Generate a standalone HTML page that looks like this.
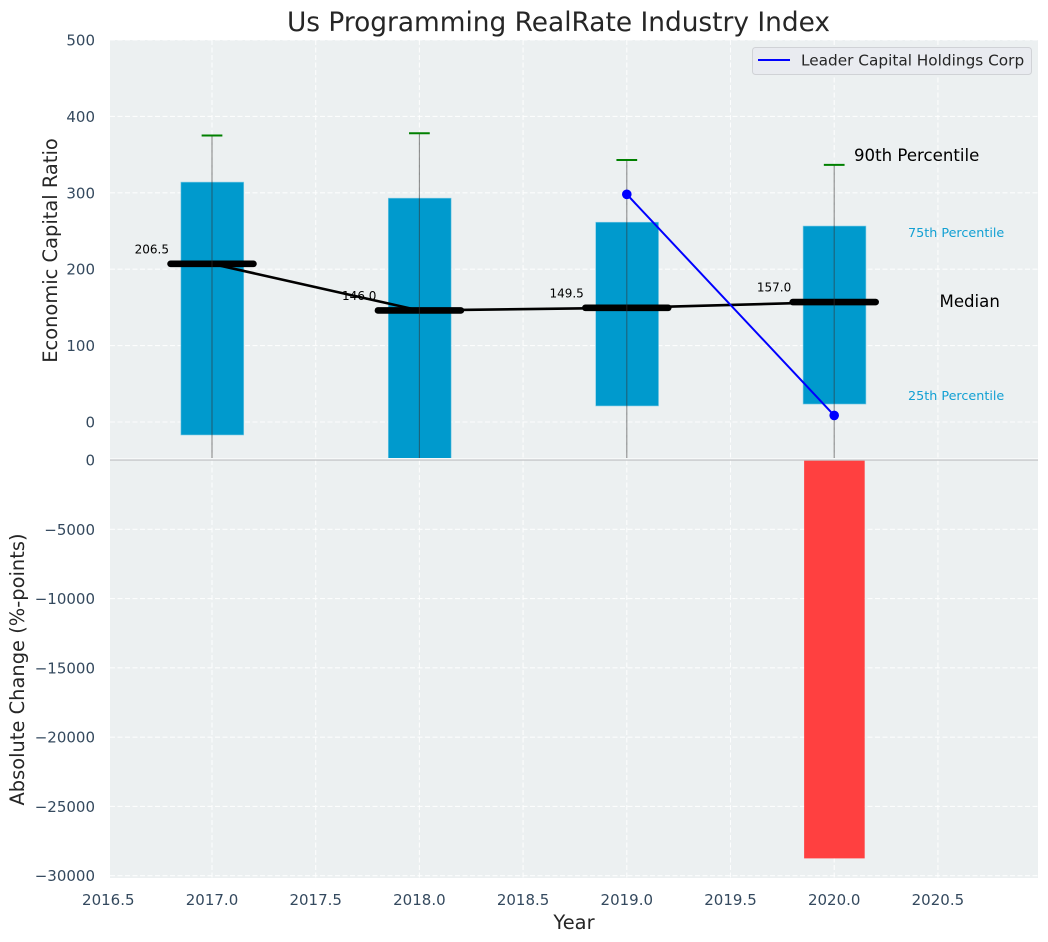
<!DOCTYPE html>
<html lang="en">
<head>
<meta charset="utf-8">
<title>Us Programming RealRate Industry Index</title>
<style>
html,body{margin:0;padding:0;background:#fff;width:1048px;height:942px;overflow:hidden}
svg{display:block;font-family:"DejaVu Sans","Liberation Sans",sans-serif}
</style>
</head>
<body>
<svg id="chart" width="1048" height="942" viewBox="0 0 1048 942" xmlns="http://www.w3.org/2000/svg">
  <defs>
    <clipPath id="top-clip"><rect x="110" y="40" width="928" height="418"></rect></clipPath>
    <clipPath id="bottom-clip"><rect x="110" y="460" width="928" height="418"></rect></clipPath>
  </defs>
  <rect x="110" y="40" width="928" height="420" fill="#ecf0f1"></rect>
  <rect x="110" y="460" width="928" height="418" fill="#ecf0f1"></rect>
  <g id="grid"></g>
  <g id="marks"></g>
  <g id="ticks"></g>
  <rect x="110" y="458" width="928" height="1.5" fill="#f7f9f9"></rect>
  <rect x="110" y="459.4" width="928" height="1.3" fill="#c4c6c8"></rect>
  <text x="558.5" y="31" text-anchor="middle" font-size="26.4" fill="#262626">Us Programming RealRate Industry Index</text>
  <text x="574" y="929" text-anchor="middle" font-size="19.44" fill="#262626">Year</text>
  <text transform="translate(57 250.5) rotate(-90)" text-anchor="middle" font-size="19.44" fill="#262626">Economic Capital Ratio</text>
  <text transform="translate(24 669.5) rotate(-90)" text-anchor="middle" font-size="19.44" fill="#262626">Absolute Change (%-points)</text>
  <g>
    <rect x="752.5" y="47.5" width="279" height="27" rx="3" fill="#e9ebf0" stroke="#d0d2d6" stroke-width="1"></rect>
    <line x1="758" y1="60" x2="790" y2="60" stroke="#0000ff" stroke-width="2"></line>
    <text x="801" y="65.5" font-size="15.3" fill="#262626">Leader Capital Holdings Corp</text>
  </g>
  <text x="854" y="161" font-size="16.6" fill="#000">90th Percentile</text>
  <text x="908" y="237" font-size="12.75" fill="#12a0d3">75th Percentile</text>
  <text x="939.5" y="307" font-size="16.6" fill="#000">Median</text>
  <text x="908" y="400" font-size="12.75" fill="#12a0d3">25th Percentile</text>
</svg>
<script>
const years = [2017, 2018, 2019, 2020];
const p10 = [-50, -50, -50, -50];
const p25 = [-17, -50, 21, 23.5];
const p75 = [314, 293, 261.5, 256.5];
const p90 = [375, 378, 343, 336.5];
const medians = [207, 146.0, 149.5, 157.0];
const medianLabels = ["206.5", "146.0", "149.5", "157.0"];
const leaderYears = [2019, 2020];
const leaderValues = [298, 8.6];
const changes = [0, 0, 0, -28750];
const xTicks = [2016.5, 2017, 2017.5, 2018, 2018.5, 2019, 2019.5, 2020, 2020.5];
const xTickLabels = ["2016.5", "2017.0", "2017.5", "2018.0", "2018.5", "2019.0", "2019.5", "2020.0", "2020.5"];
const topTicks = [0, 100, 200, 300, 400, 500];
const bottomTicks = [0, -5000, -10000, -15000, -20000, -25000, -30000];
const bottomTickLabels = ["0", "\u22125000", "\u221210000", "\u221215000", "\u221220000", "\u221225000", "\u221230000"];

const NS = "http://www.w3.org/2000/svg";
function xScale(v) { return 212 + (v - 2017) * 207.4; }
function yTop(v) { return 422 - v * 0.764; }
function yBottom(v) { return 460 - v * 0.013857; }
function make(parent, tag, attrs) {
  const el = document.createElementNS(NS, tag);
  for (const k in attrs) el.setAttribute(k, attrs[k]);
  parent.appendChild(el);
  return el;
}
const gridG = document.getElementById("grid");
const marks = document.getElementById("marks");
const ticks = document.getElementById("ticks");
const topMarks = make(marks, "g", { "clip-path": "url(#top-clip)" });


const bottomMarks = make(marks, "g", { "clip-path": "url(#bottom-clip)" });


const gridStyle = { stroke: "#ffffff", "stroke-width": 1.1, "stroke-dasharray": "5 2.5", "stroke-opacity": 0.85 };

xTicks.forEach(function (t, i) {
  if (xScale(t) >= 110) {
    const g = make(gridG, "line", Object.assign({ x1: xScale(t), x2: xScale(t), y1: 40, y2: 878 }, gridStyle));
    
    
  }
  const lab = make(ticks, "text", { x: xScale(t), y: 905, "text-anchor": "middle", "font-size": 15, fill: "#34495e" });
  lab.textContent = xTickLabels[i];
  
  
});
topTicks.forEach(function (t) {
  const g = make(gridG, "line", Object.assign({ x1: 110, x2: 1038, y1: yTop(t), y2: yTop(t) }, gridStyle));
  
  
  const lab = make(ticks, "text", { x: 95, y: yTop(t) + 5.5, "text-anchor": "end", "font-size": 15, fill: "#34495e" });
  lab.textContent = String(t);
  
  
});
bottomTicks.forEach(function (t, i) {
  const g = make(gridG, "line", Object.assign({ x1: 110, x2: 1038, y1: yBottom(t), y2: yBottom(t) }, gridStyle));
  
  
  const lab = make(ticks, "text", { x: 95, y: yBottom(t) + 5.5, "text-anchor": "end", "font-size": 15, fill: "#34495e" });
  lab.textContent = bottomTickLabels[i];
  
  
});

years.forEach(function (yr, i) {
  const left = xScale(yr - 0.15);
  const right = xScale(yr + 0.153);
  const box = make(topMarks, "rect", { x: left, width: right - left, y: yTop(p75[i]), height: yTop(p25[i]) - yTop(p75[i]), fill: "#009acd", stroke: "#7fcbe5", "stroke-width": 0.6 });
  
  
});

const medianPath = make(topMarks, "polyline", {
  points: years.map(function (yr, i) { return xScale(yr) + "," + yTop(medians[i]); }).join(" "),
  fill: "none", stroke: "#000", "stroke-width": 2.6
});



years.forEach(function (yr, i) {
  const med = make(topMarks, "line", { x1: xScale(yr - 0.2), x2: xScale(yr + 0.2), y1: yTop(medians[i]), y2: yTop(medians[i]), stroke: "#000", "stroke-width": 6.6, "stroke-linecap": "round" });
  
  
  const whisker = make(topMarks, "line", { x1: xScale(yr), x2: xScale(yr), y1: yTop(p90[i]), y2: yTop(p10[i]), stroke: "#333", "stroke-opacity": 0.55, "stroke-width": 1.1 });
  
  
  const cap = make(topMarks, "line", { x1: xScale(yr - 0.05), x2: xScale(yr + 0.05), y1: yTop(p90[i]), y2: yTop(p90[i]), stroke: "#008000", "stroke-width": 2 });
  
  
  const lab = make(topMarks, "text", { x: xScale(yr - 0.2) - 1.5, y: yTop(medians[i]) - 10.5, "text-anchor": "end", "font-size": 12, fill: "#000" });
  lab.textContent = medianLabels[i];
  
  
  if (changes[i] !== 0) {
    const l = xScale(yr - 0.145);
    const r = xScale(yr + 0.147);
    const bar = make(bottomMarks, "rect", { x: l, width: r - l, y: yBottom(0), height: yBottom(changes[i]) - yBottom(0), fill: "#ff4040" });
    
    
  }
});

const leaderLine = make(topMarks, "polyline", {
  points: leaderYears.map(function (yr, i) { return xScale(yr) + "," + yTop(leaderValues[i]); }).join(" "),
  fill: "none", stroke: "#0000ff", "stroke-width": 2
});


leaderYears.forEach(function (yr, i) {
  const dot = make(topMarks, "circle", { cx: xScale(yr), cy: yTop(leaderValues[i]), r: 4.8, fill: "#0000ff" });
  
  
});
</script>
</body>
</html>
